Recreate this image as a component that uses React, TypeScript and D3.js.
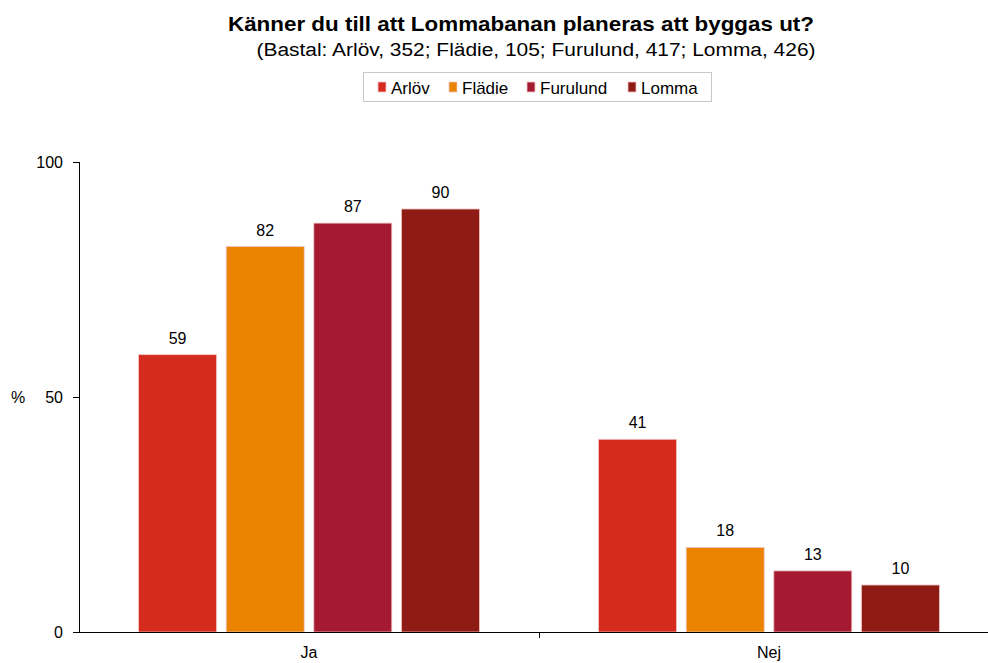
import * as d3 from "d3";
import * as React from "react";

const categories = ["Ja", "Nej"];
const series = ["Arlöv", "Flädie", "Furulund", "Lomma"];
const values: number[][] = [
    [59, 82, 87, 90],
    [41, 18, 13, 10],
];
const colors = ["#d52b1e", "#e98300", "#a51931", "#8e1b14"];
const yTicks = [0, 50, 100];

const title = "Känner du till att Lommabanan planeras att byggas ut?";
const subtitle = "(Bastal: Arlöv, 352; Flädie, 105; Furulund, 417; Lomma, 426)";

const width = 988;
const height = 663;
const margin = { top: 162, right: -11, bottom: 31, left: 79 };

export default function App(): JSX.Element {
    const x0 = d3.scaleBand<string>()
        .domain(categories)
        .range([margin.left, width - margin.right])
        .padding(0);

    const x1 = d3.scaleBand<string>()
        .domain(series)
        .range([0, x0.bandwidth()])
        .paddingInner(0.11)
        .paddingOuter(0.68);

    const y = d3.scaleLinear()
        .domain([0, 100])
        .range([height - margin.bottom, margin.top]);

    const colour = d3.scaleOrdinal<string, string>().domain(series).range(colors);

    const font = "'Liberation Sans', Arial, sans-serif";
    const legendX = [378, 449, 527, 628];

    return (
        <svg width={width} height={height} style={{ position: "absolute", left: 0, top: 0 }}
            fontFamily={font}>
            <rect width={width} height={height} fill="white" />
            <text x={521} y={31} textAnchor="middle" fontSize={21} fontWeight="bold" textLength={586}
                lengthAdjust="spacingAndGlyphs">{title}</text>
            <text x={536} y={56} textAnchor="middle" fontSize={18} textLength={559}
                lengthAdjust="spacingAndGlyphs">{subtitle}</text>

            <rect x={363.5} y={72.5} width={348} height={29} fill="white" stroke="#c8c8c8" />
            {series.map((s, i) => (
                <g key={s}>
                    <rect x={legendX[i]} y={82} width={8} height={10} fill={colour(s)}
                        stroke="#f2c6c6" strokeWidth={0.8} />
                    <text x={legendX[i] + 13} y={94} fontSize={17}>{s}</text>
                </g>
            ))}

            {categories.map((c, ci) => (
                <g key={c} transform={`translate(${x0(c)},0)`}>
                    {series.map((s, si) => {
                        const v = values[ci][si];
                        const bx = x1(s) as number;
                        return (
                            <g key={s}>
                                <rect x={bx} y={y(v)} width={x1.bandwidth()} height={y(0) - y(v)}
                                    fill={colour(s)} stroke="#f0c4c4" strokeWidth={0.8} />
                                <text x={bx + x1.bandwidth() / 2} y={y(v) - 11} textAnchor="middle"
                                    fontSize={16}>{v}</text>
                            </g>
                        );
                    })}
                    <text x={x0.bandwidth() / 2} y={658} textAnchor="middle" fontSize={16}>{c}</text>
                </g>
            ))}

            <line x1={margin.left} x2={width} y1={y(0) + 0.5} y2={y(0) + 0.5} stroke="black" />
            <line x1={margin.left + 0.5} x2={margin.left + 0.5} y1={y(100)} y2={y(0)} stroke="black" />
            {categories.slice(1).map(c => (
                <line key={c} x1={(x0(c) as number) + 0.5} x2={(x0(c) as number) + 0.5}
                    y1={y(0)} y2={y(0) + 6} stroke="black" />
            ))}
            {yTicks.map(t => (
                <g key={t}>
                    <line x1={margin.left - 6} x2={margin.left} y1={y(t) + 0.5} y2={y(t) + 0.5} stroke="black" />
                    <text x={margin.left - 16} y={y(t) + 6} textAnchor="end" fontSize={16}>{t}</text>
                </g>
            ))}
            <text x={18} y={y(50) + 6} textAnchor="middle" fontSize={16}>%</text>
        </svg>
    );
}
